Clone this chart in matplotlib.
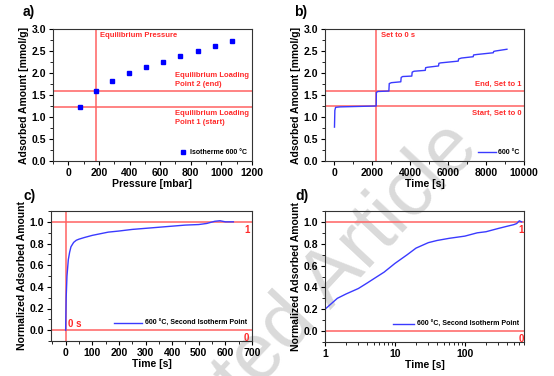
import numpy as np
import matplotlib
matplotlib.use("Agg")
import matplotlib.pyplot as plt
from matplotlib.ticker import MultipleLocator

plt.rcParams['font.family'] = ['Liberation Sans', 'DejaVu Sans']
plt.rcParams['font.weight'] = 'bold'
plt.rcParams['axes.labelweight'] = 'bold'

# ---- data ----
# a) isotherm
iso_p = [75, 180, 285, 395, 510, 620, 730, 845, 960, 1070]
iso_q = [1.23, 1.60, 1.82, 1.99, 2.13, 2.26, 2.39, 2.50, 2.62, 2.72]
eq_pressure = 180
load_end = 1.60
load_start = 1.23

# b) raw uptake vs time
raw_t = [0, 20, 60, 300, 2200, 2210, 2300, 2870, 2890, 3000, 3500, 3520, 3600,
         4080, 4100, 4200, 4790, 4810, 4900, 5490, 5510, 5600, 6530, 6550, 6700,
         7320, 7340, 7500, 8380, 8400, 8500, 9100]
raw_q = [0.77, 1.15, 1.22, 1.23, 1.25, 1.56, 1.58, 1.59, 1.76, 1.78, 1.80, 1.90, 1.92,
         1.93, 2.02, 2.04, 2.06, 2.12, 2.13, 2.16, 2.22, 2.23, 2.27, 2.32, 2.34,
         2.37, 2.41, 2.42, 2.46, 2.49, 2.50, 2.54]
set_zero_t = 2200
end_level = 1.60
start_level = 1.25

# c) normalized uptake, linear time
norm_t = [0, 2, 5, 10, 15, 20, 30, 40, 50, 70, 100, 130, 160, 200, 250, 300,
          350, 400, 450, 500, 530, 560, 580, 600, 630]
norm_q = [0, 0.30, 0.50, 0.65, 0.72, 0.77, 0.81, 0.83, 0.84, 0.855, 0.875, 0.89,
          0.905, 0.915, 0.93, 0.94, 0.95, 0.96, 0.97, 0.975, 0.985, 1.005, 1.01,
          1.0, 1.0]

# d) normalized uptake, log time
log_t = [1, 1.5, 2, 3, 4, 5, 7, 10, 15, 20, 30, 40, 60, 100, 150, 200, 300, 400,
         500, 550, 600, 650]
log_q = [0.20, 0.30, 0.34, 0.39, 0.44, 0.48, 0.54, 0.62, 0.70, 0.76, 0.81, 0.83,
         0.85, 0.87, 0.90, 0.91, 0.94, 0.96, 0.975, 0.985, 1.01, 1.0]

red = '#ff6262'
tred = '#ff2a2a'
blue = '#0000ff'
lblue = '#3a3aff'

fig = plt.figure(figsize=(5.54, 3.76), dpi=100)
W, H = 554, 376


def make_ax(l, t, r, b):
    ax = fig.add_axes([l / W, 1 - b / H, (r - l) / W, (b - t) / H])
    ax.set_facecolor('none')
    ax.tick_params(direction='out', labelsize=7.5, length=3, width=0.8, pad=2)
    ax.tick_params(which='minor', direction='out', length=2, width=0.6)
    for s in ax.spines.values():
        s.set_linewidth(0.8)
        s.set_color('#333333')
    return ax


# watermark behind everything
fig.text(272 / W, 1 - 343 / H, 'Accepted Article', rotation=47, fontsize=57,
         color='#dadada', ha='center', va='center', rotation_mode='anchor',
         zorder=-1, fontweight='normal')

# ---------------- a) ----------------
ax = make_ax(53, 29, 252, 161)
ax.axvline(eq_pressure, color=red, lw=1.1)
ax.axhline(load_end, color=red, lw=1.1)
ax.axhline(load_start, color=red, lw=1.1)
ax.plot(iso_p, iso_q, 's', color=blue, ms=2.5, label='Isotherme 600 °C')
ax.set_xlim(-100, 1200)
ax.set_ylim(0, 3.0)
ax.xaxis.set_major_locator(MultipleLocator(200))
ax.xaxis.set_minor_locator(MultipleLocator(100))
ax.yaxis.set_major_locator(MultipleLocator(0.5))
ax.yaxis.set_minor_locator(MultipleLocator(0.25))
ax.set_xlabel('Pressure [mbar]', fontsize=7.5, labelpad=1)
ax.set_ylabel('Adsorbed Amount [mmol/g]', fontsize=7.5, labelpad=2)
ax.text(205, 2.85, 'Equilibrium Pressure', color=tred, fontsize=5.5, va='center')
ax.text(700, 1.67, 'Equilibrium Loading\nPoint 2 (end)', color=tred, fontsize=5.5,
        va='bottom', linespacing=1.3)
ax.text(700, 1.15, 'Equilibrium Loading\nPoint 1 (start)', color=tred, fontsize=5.5,
        va='top', linespacing=1.3)
ax.legend(loc='lower right', fontsize=5, frameon=False, handlelength=1, markerscale=0.9,
          borderaxespad=0.3, handletextpad=0.6)
ax.set_xticklabels(['%d' % v for v in ax.get_xticks()], fontweight='bold')
ax.set_yticklabels(['%.1f' % v for v in ax.get_yticks()], fontweight='bold')
fig.text(23 / W, 1 - 12 / H, 'a)', fontsize=10, fontweight='bold', va='center')

# ---------------- b) ----------------
ax = make_ax(325, 29, 524, 161)
ax.axvline(set_zero_t, color=red, lw=1.1)
ax.axhline(end_level, color=red, lw=1.1)
ax.axhline(start_level, color=red, lw=1.1)
ax.plot(raw_t, raw_q, '-', color=lblue, lw=1, label='600 °C')
ax.set_xlim(-500, 10000)
ax.set_ylim(0, 3.0)
ax.xaxis.set_major_locator(MultipleLocator(2000))
ax.xaxis.set_minor_locator(MultipleLocator(1000))
ax.yaxis.set_major_locator(MultipleLocator(0.5))
ax.yaxis.set_minor_locator(MultipleLocator(0.25))
ax.set_xlabel('Time [s]', fontsize=7.5, labelpad=1)
ax.set_ylabel('Adsorbed Amount [mmol/g]', fontsize=7.5, labelpad=2)
ax.text(2450, 2.85, 'Set to 0 s', color=tred, fontsize=5.5, va='center')
ax.text(9850, 1.67, 'End, Set to 1', color=tred, fontsize=5.5, va='bottom', ha='right')
ax.text(9850, 1.17, 'Start, Set to 0', color=tred, fontsize=5.5, va='top', ha='right')
ax.legend(loc='lower right', fontsize=5, frameon=False, handlelength=2.5,
          borderaxespad=0.3, handletextpad=0.3)
ax.set_xticklabels(['%d' % v for v in ax.get_xticks()], fontweight='bold')
ax.set_yticklabels(['%.1f' % v for v in ax.get_yticks()], fontweight='bold')
fig.text(294 / W, 1 - 12 / H, 'b)', fontsize=10, fontweight='bold', va='center')

# ---------------- c) ----------------
ax = make_ax(51, 211, 252, 341)
ax.axvline(0, color=red, lw=1.1)
ax.axhline(1, color=red, lw=1.1)
ax.axhline(0, color=red, lw=1.1)
ax.plot(norm_t, norm_q, '-', color=lblue, lw=1, label='600 °C, Second Isotherm Point')
ax.set_xlim(-55, 700)
ax.set_ylim(-0.1, 1.1)
ax.xaxis.set_major_locator(MultipleLocator(100))
ax.xaxis.set_minor_locator(MultipleLocator(50))
ax.yaxis.set_major_locator(MultipleLocator(0.2))
ax.yaxis.set_minor_locator(MultipleLocator(0.1))
ax.set_xlabel('Time [s]', fontsize=7.5, labelpad=1)
ax.set_ylabel('Normalized Adsorbed Amount', fontsize=7.5, labelpad=2)
ax.text(8, 0.015, '0 s', color=tred, fontsize=7, va='bottom')
ax.text(690, 0.97, '1', color=tred, fontsize=7, va='top', ha='right')
ax.text(690, -0.03, '0', color=tred, fontsize=7, va='top', ha='right')
ax.legend(loc='lower right', fontsize=5, frameon=False, handlelength=4,
          borderaxespad=0.3, handletextpad=0.4, bbox_to_anchor=(1, 0.07))
ax.set_xticklabels(['%d' % v for v in ax.get_xticks()], fontweight='bold')
ax.set_yticklabels(['%.1f' % v for v in ax.get_yticks()], fontweight='bold')
fig.text(23 / W, 1 - 196 / H, 'c)', fontsize=10, fontweight='bold', va='center')

# ---------------- d) ----------------
ax = make_ax(325, 211, 524, 342)
ax.axhline(1, color=red, lw=1.1)
ax.axhline(0, color=red, lw=1.1)
ax.plot(log_t, log_q, '-', color=lblue, lw=1, label='600 °C, Second Isotherm Point')
ax.set_xscale('log')
ax.set_xlim(1, 700)
ax.set_ylim(-0.1, 1.1)
ax.yaxis.set_major_locator(MultipleLocator(0.2))
ax.yaxis.set_minor_locator(MultipleLocator(0.1))
ax.set_xlabel('Time [s]', fontsize=7.5, labelpad=1)
ax.set_ylabel('Normalized Adsorbed Amount', fontsize=7.5, labelpad=2)
ax.text(690, 0.97, '1', color=tred, fontsize=7, va='top', ha='right')
ax.text(690, -0.03, '0', color=tred, fontsize=7, va='top', ha='right')
ax.legend(loc='lower right', fontsize=5, frameon=False, handlelength=3,
          borderaxespad=0.3, handletextpad=0.4, bbox_to_anchor=(1, 0.07))
ax.set_xticks([1, 10, 100])
ax.set_xticklabels(['1', '10', '100'], fontweight='bold')
ax.set_yticklabels(['%.1f' % v for v in ax.get_yticks()], fontweight='bold')
fig.text(295 / W, 1 - 196 / H, 'd)', fontsize=10, fontweight='bold', va='center')

fig.savefig('out.png', dpi=100)
